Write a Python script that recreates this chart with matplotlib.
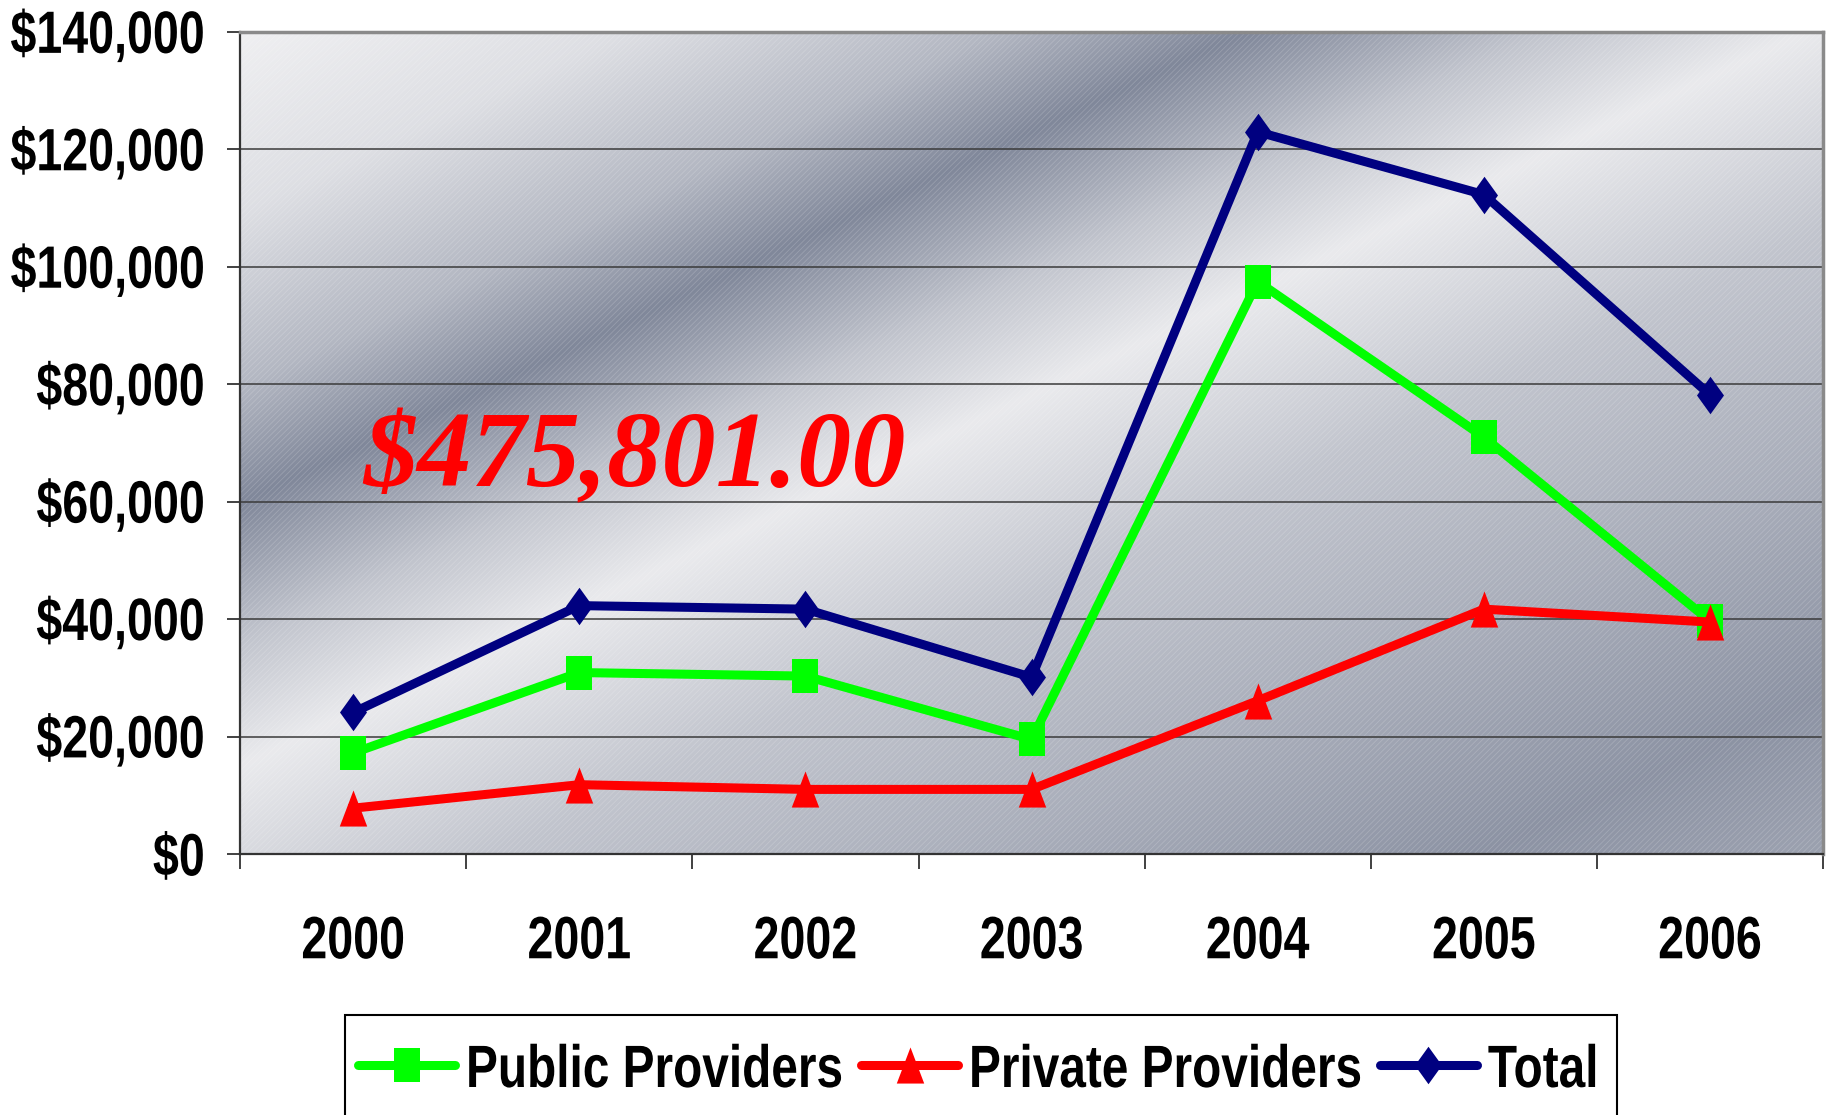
import matplotlib
matplotlib.use("Agg")
import matplotlib.pyplot as plt
import matplotlib.ticker as mticker
from matplotlib import patheffects
from matplotlib.transforms import Affine2D
from matplotlib.lines import Line2D
from matplotlib.patches import Rectangle
import numpy as np

# data
years = ['2000', '2001', '2002', '2003', '2004', '2005', '2006']
public = [17200, 30900, 30300, 19500, 97500, 71000, 39700]
private = [7800, 11800, 11000, 11000, 26100, 41700, 39500]
total = [24100, 42300, 41700, 30100, 123000, 112300, 78200]
grand_total = '$475,801.00'
series_names = ['Public Providers', 'Private Providers', 'Total']
series_colors = ['#00ff00', '#ff0000', '#000080']

# no narrow font installed: draw a smaller font and stretch it up,
# which gives the tall condensed look of the original labels
TICK_SX = 0.78
LEG_SX = 0.80
BIG = 43


class Stretch(patheffects.AbstractPathEffect):
    def __init__(self, sy, anchor='baseline'):
        super().__init__()
        self.sy = sy
        self.anchor = anchor

    def draw_path(self, renderer, gc, tpath, affine, rgbFace=None):
        ext = tpath.get_extents()
        a = {'baseline': 0, 'center': (ext.y0 + ext.y1) / 2, 'top': ext.y1}[self.anchor]
        t = Affine2D().translate(0, -a).scale(1, self.sy).translate(0, a) + affine
        renderer.draw_path(gc, tpath, t, rgbFace)


plt.rcParams['font.family'] = ['Liberation Sans', 'DejaVu Sans']
plt.rcParams['font.weight'] = 'bold'
plt.rcParams['hatch.linewidth'] = 0.6

FW, FH = 1837, 1115
fig = plt.figure(figsize=(FW / 100, FH / 100), dpi=100)
ax = fig.add_axes([0.1307, 0.2341, 0.8617, 0.7372])

# metallic gradient background (diagonal bands)
W, H = 1351, 702
xx, yy = np.meshgrid(np.linspace(0, W, 400), np.linspace(H, 0, 220))
s = yy - 0.47 * xx
prof_s = [-620, -500, -300, -100, 75, 180, 300, 400, 550, 710]
prof_v = [0.30, 0.18, 0.42, 0.62, 0.95, 0.62, 0.08, 0.50, 0.85, 1.00]
v = np.interp(s, prof_s, prof_v)
dark = np.array([118, 126, 146]) / 255.0
light = np.array([240, 240, 242]) / 255.0
img = dark[None, None, :] + (light - dark)[None, None, :] * v[:, :, None]
ax.imshow(img, extent=[0, 1, 0, 1], transform=ax.transAxes, aspect='auto',
          zorder=0, interpolation='bicubic')
ax.add_patch(Rectangle((0, 0), 1, 1, transform=ax.transAxes, facecolor='none',
                       hatch='//////', edgecolor=(1, 1, 1, 0.18), lw=0, zorder=0.5))

# marker shapes (taller than wide, as in the original)
m_square = [(-0.38, -0.5), (0.38, -0.5), (0.38, 0.5), (-0.38, 0.5), (-0.38, -0.5)]
m_tri = [(0, 0.5), (0.38, -0.5), (-0.38, -0.5), (0, 0.5)]
m_diam = [(0, 0.5), (0.36, 0), (0, -0.5), (-0.36, 0), (0, 0.5)]
markers = [m_square, m_tri, m_diam]
msizes = [24, 26, 27]

x = np.arange(len(years))
for i, vals in enumerate([public, private, total]):
    ax.plot(x, vals, color=series_colors[i], lw=6.5, marker=markers[i],
            ms=msizes[i], mew=0, zorder=3 + i, solid_joinstyle='miter')

ax.set_xlim(-0.5, len(years) - 0.5)
ax.set_ylim(0, 140000)
ax.set_yticks(np.arange(0, 140001, 20000))
ax.yaxis.set_major_formatter(mticker.StrMethodFormatter('${x:,.0f}'))
ax.grid(axis='y', color='#3a3a3a', lw=1.1, zorder=1)

ax.set_xticks(x)
ax.set_xticklabels(years)
ax.set_xticks(np.arange(-0.5, len(years)), minor=True)
ax.tick_params(axis='x', which='major', length=0, pad=44, labelsize=BIG * TICK_SX)
ax.tick_params(axis='x', which='minor', length=11, width=1.3, color='#333333')
ax.tick_params(axis='y', length=9.5, width=1.3, color='#333333', pad=16,
               labelsize=BIG * TICK_SX)
for lab in ax.get_yticklabels():
    lab.set_path_effects([Stretch(1 / TICK_SX, 'center')])
for lab in ax.get_xticklabels():
    lab.set_path_effects([Stretch(1 / TICK_SX, 'top')])

for sp in ['left', 'bottom']:
    ax.spines[sp].set_color('#333333')
    ax.spines[sp].set_linewidth(1.6)
for sp in ['top', 'right']:
    ax.spines[sp].set_color('#8a8a8a')
    ax.spines[sp].set_linewidth(2.5)

ax.text(1.246, 62600, grand_total, color='#ff0000', fontsize=78,
        family=['Liberation Serif', 'DejaVu Serif'], style='italic',
        weight='bold', ha='center', va='baseline', zorder=7)

# legend laid out by hand so the condensed labels sit tight
renderer = fig.canvas.get_renderer()
box_left, box_top = 345, 1015
baseline, mid = 1087, 1065
handle_len, text_pad, col_gap = 97, 11, 18


def fx(px):
    return px / FW


def fy(py):
    return 1 - py / FH


cur = box_left + 13
for i, name in enumerate(series_names):
    fig.add_artist(Line2D([fx(cur), fx(cur + handle_len)], [fy(mid), fy(mid)],
                          color=series_colors[i], lw=6.5, solid_capstyle='round',
                          transform=fig.transFigure))
    fig.add_artist(Line2D([fx(cur + handle_len / 2)], [fy(mid)], marker=markers[i],
                          ms=msizes[i], mew=0, color=series_colors[i],
                          transform=fig.transFigure))
    cur += handle_len + text_pad
    t = fig.text(fx(cur), fy(baseline), name, fontsize=BIG * LEG_SX,
                 ha='left', va='baseline')
    t.set_path_effects([Stretch(1 / LEG_SX, 'baseline')])
    cur += t.get_window_extent(renderer).width
    if i < len(series_names) - 1:
        cur += col_gap
box_right = cur + 18
fig.add_artist(Rectangle((fx(box_left), fy(FH + 40)), fx(box_right - box_left),
                         fy(box_top) - fy(FH + 40), transform=fig.transFigure,
                         facecolor='white', edgecolor='black', lw=1.5, zorder=-1))

fig.savefig('out.png', dpi=100)
